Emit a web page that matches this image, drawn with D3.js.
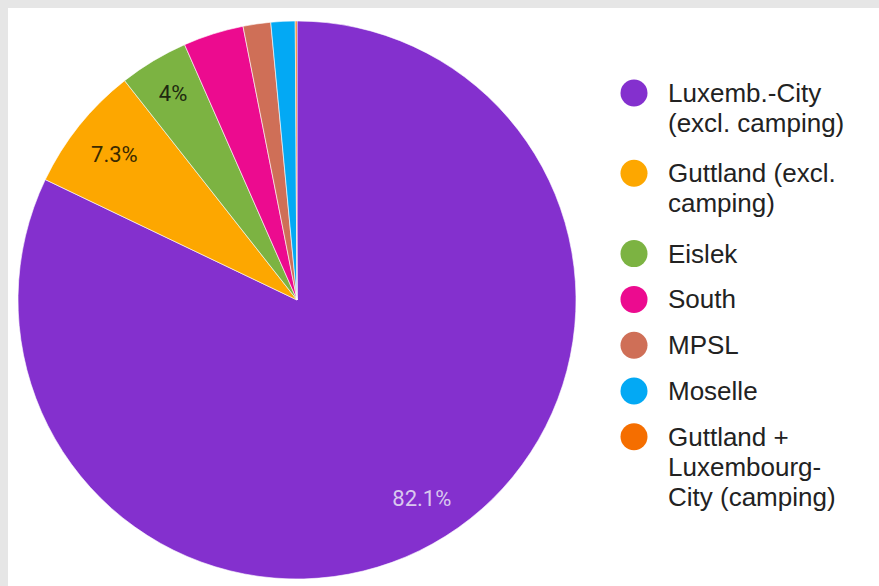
<!DOCTYPE html>
<html>
<head>
<meta charset="utf-8">
<script src="https://cdn.jsdelivr.net/npm/d3@7"></script>
<style>
  html, body { margin: 0; padding: 0; background: #e6e6e6; }
  svg { display: block; }
</style>
</head>
<body>
<svg id="chart"></svg>
<script>
// regions, clockwise from 12 o'clock
var regions = ["Luxemb.-City (excl. camping)", "Guttland (excl. camping)", "Eislek", "South", "MPSL", "Moselle", "Guttland + Luxembourg-City (camping)"];
var legendLines = [
    ["Luxemb.-City", "(excl. camping)"],
    ["Guttland (excl.", "camping)"],
    ["Eislek"],
    ["South"],
    ["MPSL"],
    ["Moselle"],
    ["Guttland +", "Luxembourg-", "City (camping)"]
];
var shares = [82.1, 7.3, 4.0, 3.5, 1.6, 1.4, 0.1];
var labels = ["82.1%", "7.3%", "4%", "", "", "", ""];
var colors = ["#8430ce", "#fda700", "#7cb342", "#ec0b8f", "#cf6f57", "#03a9f4", "#f56e00"];
var labelColors = ["#d9c8ee", "#3a2a00", "#1e2a10"];

const width = 879;
const height = 586;
var cx = 297, cy = 300, radius = 279;

var svg = d3.select("#chart")
    .attr("width", width)
    .attr("height", height);

// white panel
svg.append("rect")
    .attr("x", 8)
    .attr("y", 8)
    .attr("width", width - 8)
    .attr("height", height - 8)
    .attr("fill", "#fff");

var data = regions.map(function(r, i) {
    return {region: r, value: shares[i], label: labels[i], idx: i};
});

var pie = d3.pie()
    .sort(null)
    .value(function(d) { return d.value; });

var arc = d3.arc()
    .innerRadius(0)
    .outerRadius(radius);

var labelArc = d3.arc()
    .innerRadius(234)
    .outerRadius(234);

var g = svg.append("g")
    .attr("transform", "translate(" + cx + "," + cy + ")");

var arcs = pie(data);

g.selectAll(".slice")
    .data(arcs)
    .enter().append("path")
    .attr("class", "slice")
    .attr("d", arc)
    .attr("fill", function(d) { return colors[d.data.idx]; })
    .attr("stroke", "#fff")
    .attr("stroke-width", 0.6);

g.selectAll(".slice-label")
    .data(arcs.filter(function(d) { return d.data.label !== ""; }))
    .enter().append("text")
    .attr("class", "slice-label")
    .attr("transform", function(d) {
        var c = labelArc.centroid(d);
        // small slices get their label a bit nearer the rim
        if (d.data.value < 5) { c = [c[0] * 1.03, c[1] * 1.03]; }
        return "translate(" + c + ")";
    })
    .attr("text-anchor", "middle")
    .attr("dy", "0.36em")
    .style("font-family", "Roboto, Arial, sans-serif")
    .style("font-size", "22px")
    .style("fill", function(d) { return labelColors[d.data.idx]; })
    .text(function(d) { return d.data.label; });

// legend
var legend = svg.append("g");
var lineH = 30;
var y = 93;
legendLines.forEach(function(lines, i) {
    var item = legend.append("g")
        .attr("transform", "translate(0," + y + ")");
    item.append("circle")
        .attr("cx", 634)
        .attr("cy", 0)
        .attr("r", 13.5)
        .attr("fill", colors[i]);
    var t = item.append("text")
        .attr("x", 668)
        .attr("y", 9)
        .style("font-family", "'Liberation Sans', Arial, sans-serif")
        .style("font-size", "26px")
        .style("fill", "#222");
    lines.forEach(function(l, j) {
        t.append("tspan")
            .attr("x", 668)
            .attr("dy", j === 0 ? 0 : lineH)
            .text(l);
    });
    y += 45.8 + 34.5 * (lines.length - 1);
});
</script>
</body>
</html>
